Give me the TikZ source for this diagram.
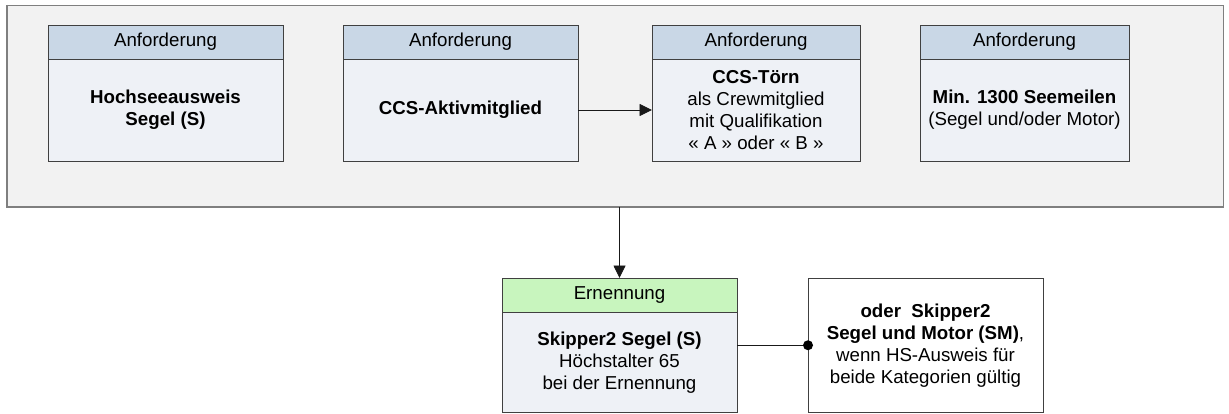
\documentclass[tikz,border=0pt]{standalone}
\usepackage{fontspec}
\setmainfont{Liberation Sans}
\usetikzlibrary{arrows.meta}
\definecolor{hdrblue}{HTML}{C9D7E6}
\definecolor{bodyblue}{HTML}{EEF1F6}
\definecolor{hdrgreen}{HTML}{C8F5BE}
\definecolor{outerfill}{HTML}{F2F2F2}
\definecolor{outerline}{HTML}{7F7F7F}
\definecolor{boxline}{HTML}{404040}
\begin{document}
\begin{tikzpicture}[x=1pt,y=-1pt,
  base/.style={draw=boxline, line width=0.9pt, inner sep=2pt, outer sep=0pt, align=center, anchor=north west, font=\fontsize{18.7}{22}\selectfont},
  hdr/.style={base, fill=hdrblue, minimum height=34pt},
  hdrg/.style={base, fill=hdrgreen, minimum height=34pt},
  bodybox/.style={base, fill=bodyblue, minimum height=102pt},
  plainbox/.style={base, fill=white},
  conn/.style={draw=black!90, line width=0.9pt},
  arr/.style={conn, -{Triangle[length=12.5pt,width=12pt]}}
]
\useasboundingbox (0,0) rectangle (1229,414);
% outer frame
\node[draw=outerline, fill=outerfill, line width=0.9pt, minimum width=1216pt, minimum height=202pt, anchor=north west, inner sep=0pt, outer sep=0pt] (outer) at (7,5) {};
\draw[outerline, line width=2pt] (outer.north west) -- (outer.south west) -- (outer.south east);

% requirement boxes
\node[hdr, minimum width=235pt] (h1) at (48,25) {Anforderung};
\node[bodybox, minimum width=235pt] (b1) at (48,59) {\textbf{Hochseeausweis}\\\textbf{Segel (S)}};

\node[hdr, minimum width=235pt] (h2) at (343,25) {Anforderung};
\node[bodybox, minimum width=235pt] (b2) at (343,59) {\textbf{CCS-Aktivmitglied}};

\node[hdr, minimum width=208pt] (h3) at (652,25) {Anforderung};
\node[bodybox, minimum width=208pt] (b3) at (652,59) {\textbf{CCS-Törn}\\als Crewmitglied\\mit Qualifikation\\« A » oder « B »};

\node[hdr, minimum width=209pt] (h4) at (920,25) {Anforderung};
\node[bodybox, minimum width=209pt] (b4) at (920,59) {\textbf{Min. 1300 Seemeilen}\\(Segel und/oder Motor)};

% appointment
\node[hdrg, minimum width=235pt] (eh) at (502,278) {Ernennung};
\node[bodybox, minimum width=235pt, minimum height=100.5pt] (eb) at (502,312) {\textbf{Skipper2 Segel (S)}\\Höchstalter 65\\bei der Ernennung};

\node[plainbox, minimum width=235pt, minimum height=134.5pt] (alt) at (808,278) {\textbf{oder\ \ Skipper2}\\\textbf{Segel und Motor (SM)},\\wenn HS-Ausweis für\\beide Kategorien gültig};

% connectors
\draw[arr] (b2.east) -- (b3.west);
\draw[arr] (eh.north |- outer.south) -- (eh.north);
\draw[conn] (alt.west -| eb.east) -- (alt.west);
\fill[black] (alt.west) circle (5pt);
\end{tikzpicture}
\end{document}
